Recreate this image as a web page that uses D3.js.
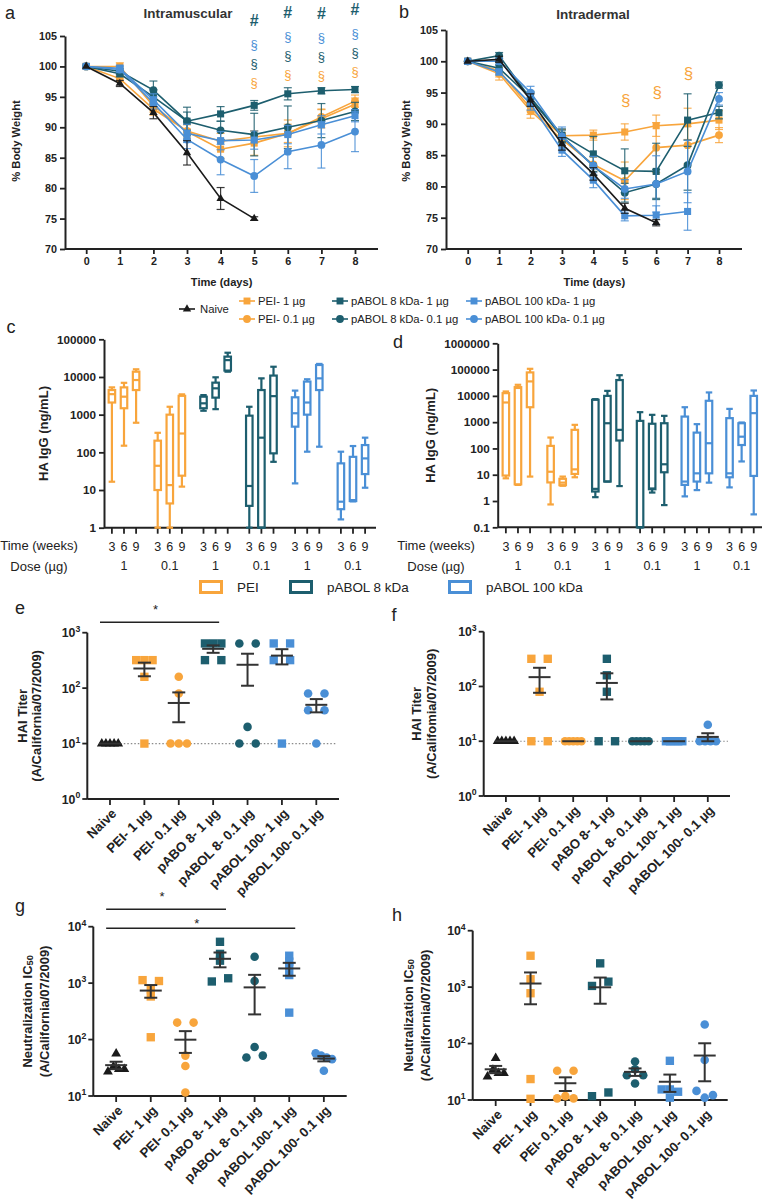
<!DOCTYPE html>
<html><head><meta charset="utf-8">
<script src="https://cdn.jsdelivr.net/npm/d3@7/dist/d3.min.js"></script>
<style>
html,body{margin:0;padding:0;background:#fff;}
svg text{font-family:"Liberation Sans",Arial,Helvetica,sans-serif;}
</style></head><body>
<script>
// ================= DATA =================
const days = [0,1,2,3,4,5,6,7,8];
const seriesNames = ["Naive","PEI- 1 µg","PEI- 0.1 µg","pABOL 8 kDa- 1 µg","pABOL 8 kDa- 0.1 µg","pABOL 100 kDa- 1 µg","pABOL 100 kDa- 0.1 µg"];

// Panel a: Intramuscular, % body weight (mean) and error (SEM)
const imNaive      = [100,97.2,92.4,85.8,78.3,75.0];
const imNaiveErr   = [0,0.5,1.0,2.0,1.8,0.3];
const imPei1       = [100,100.0,93.5,89.3,86.4,87.4,89.0,91.4,93.8];
const imPei1Err    = [0,0.6,1.0,1.2,1.5,2.0,2.2,1.5,1.0];
const imPei01      = [100,98.0,93.0,89.4,87.7,88.4,89.0,91.7,94.3];
const imPei01Err   = [0,0.5,1.0,1.0,1.3,1.0,1.5,1.3,1.0];
const imP8_1       = [100,98.8,95.0,91.0,92.2,93.6,95.5,96.0,96.2];
const imP8_1Err    = [0,0.5,1.2,2.3,1.2,0.8,1.0,0.5,0.5];
const imP8_01      = [100,99.2,96.1,91.0,89.5,88.8,90.0,91.1,92.6];
const imP8_01Err   = [0,0.5,1.5,1.5,1.5,3.5,3.5,2.8,1.5];
const imP100_1     = [100,99.7,94.5,89.0,87.8,87.9,88.8,90.4,91.9];
const imP100_1Err  = [0,0.5,1.0,1.5,1.5,1.5,1.5,1.5,1.0];
const imP100_01    = [100,99.5,94.0,88.0,84.7,82.0,86.0,87.1,89.3];
const imP100_01Err = [0,0.5,1.0,1.5,2.5,2.7,2.8,3.8,3.3];
const imSigDays    = [5,6,7,8];
const imSigMarks   = ["#","§","§","§"];

// Panel b: Intradermal
const idNaive      = [100,100.3,93.8,86.8,82.0,76.5,74.2];
const idNaiveErr   = [0,0.5,1.0,1.0,1.0,0.8,0.5];
const idPei1       = [100,98.5,92.5,88.1,88.2,88.7,89.7,90.0,90.6];
const idPei1Err    = [0,1.0,1.0,1.0,0.8,1.3,1.7,2.5,1.5];
const idPei01      = [100,98.0,92.1,87.5,83.5,80.9,86.2,86.6,88.2];
const idPei01Err   = [0,1.0,1.2,1.0,1.2,3.0,4.0,3.0,1.2];
const idP8_1       = [100,98.9,94.2,88.2,85.2,82.5,82.4,90.6,91.8];
const idP8_1Err    = [0,0.5,1.0,1.0,2.8,3.5,4.5,4.2,1.0];
const idP8_01      = [100,100.9,94.0,88.0,83.3,79.0,80.4,83.4,96.2];
const idP8_01Err   = [0,0.5,1.0,1.0,1.5,1.5,2.3,4.0,0.5];
const idP100_1     = [100,98.3,93.2,85.8,81.0,75.3,75.4,76.0];
const idP100_1Err  = [0,0.5,1.0,1.0,1.2,0.8,1.5,3.0];
const idP100_01    = [100,100.0,95.0,88.0,83.3,79.6,80.4,82.4,94.0];
const idP100_01Err = [0,0.5,1.0,1.5,1.5,1.5,4.5,5.0,1.0];
const idSigDays    = [5,6,7];

// Panels c/d: HA IgG box plots, each box = [min, Q1, median, Q3, max] for weeks 3, 6, 9
const weeks = ["3","6","9"];
const doses = ["1","0.1","1","0.1","1","0.1"];
const boxGroups = ["PEI","pABOL 8 kDa","pABOL 100 kDa"];
const cPei1   = [[16.6,2100,3500,4500,5300],[150,1480,3000,5300,7000],[610,4500,8300,13800,16000]];
const cPei01  = [[1,10,44,204,330],[1,4.4,13.5,1000,1620],[12.3,24,316,3160,3460]];
const cP8_1   = [[1270,1480,2000,3000,3300],[1400,2830,5000,7070,9800],[13800,14800,28000,34700,44000]];
const cP8_01  = [[1,3.8,12.8,940,1620],[1,1,245,4500,9200],[56,94,3100,10900,18700]];
const cP100_1 = [[15,480,1090,2890,4350],[104,1000,2100,7550,8700],[141,4500,9200,20800,22200]];
const cP100_01= [[1.66,3.1,4.9,51,104],[5,5.1,5.4,76,147],[11.5,26.5,69,156,245]];
const dPei1   = [[7.3,9.3,5600,12700,14700],[4.1,4.3,20000,21500,26400],[8.5,3700,35500,78000,107000]];
const dPei01  = [[0.74,5.1,13,125,260],[3.8,4,5,7,8.5],[8,10.7,16,510,790]];
const dP8_1   = [[1.4,2.3,2.9,7100,7500],[5.5,5.5,910,10000,15500],[3.7,200,510,40000,61000]];
const dP8_01  = [[0.1,0.1,0.1,1120,2400],[2.1,2.8,3,870,1900],[0.7,12.4,25,910,1740]];
const dP100_1 = [[1.5,4.1,5.5,1630,3700],[2.6,5.5,11.3,400,840],[5,11.3,158,6500,13500]];
const dP100_01= [[3.3,8,11.3,1420,3200],[32,135,280,910,970],[0.31,9,2200,10000,16000]];

// Panels e-h: individual animals
const catLabels = ["Naive","PEI- 1 µg","PEI- 0.1 µg","pABO 8- 1 µg","pABOL 8- 0.1 µg","pABOL 100- 1 µg","pABOL 100- 0.1 µg"];
const eHAI  = [[10,10,10,10,10],[320,320,320,160,10],[160,80,10,10,10],[640,640,640,320,320],[640,640,20,10,10],[640,640,320,320,10],[80,80,40,40,10]];
const fHAI  = [[10,10,10,10,10],[320,320,80,10,10],[10,10,10,10,10],[320,160,80,10,10],[10,10,10,10,10],[10,10,10,10,10],[20,10,10,10,10]];
const gIC50 = [[56,27,33,30,30],[1130,1090,780,580,110],[200,200,52,34,11.5],[5400,3300,2500,1070,1220],[2940,1090,48,74,52],[3060,2400,1950,1390,300],[57,52,48,45,28]];
const hIC50 = [[55,26,34,30,30],[3600,1380,780,23.5,10.5],[33,33,10.7,11.7,10.7],[2640,1050,1250,11.7,13.6],[48,35,27.5,27.5,19.6],[49.5,15.4,15.4,14,11],[218,51,14.5,11,12.2]];

// ================= STYLE =================
const FONT = "'Liberation Sans', Arial, Helvetica, sans-serif";
const COL = {naive:"#1a1a1a", pei:"#F8A53C", p8:"#1D5E6E", p100:"#4A8FD6"};
const catColors = [COL.naive,COL.pei,COL.pei,COL.p8,COL.p8,COL.p100,COL.p100];
const catShapes = ["tri","sq","ci","sq","ci","sq","ci"];
const boxColors = [COL.pei,COL.pei,COL.p8,COL.p8,COL.p100,COL.p100];
const boxLegendColors = [COL.pei,COL.p8,COL.p100];
const AX = "#222";

const svg = d3.select("body").append("svg").attr("width",762).attr("height",1200)
  .style("font-family",FONT);

function symPath(shape, size){
  const t = shape==="sq"?d3.symbolSquare:shape==="ci"?d3.symbolCircle:d3.symbolTriangle;
  return d3.symbol().type(t).size(size)();
}
function styleAxis(sel, fs, cls, bold=true){
  sel.select(".domain").attr("stroke",AX).attr("stroke-width",2);
  sel.selectAll(".tick line").attr("stroke",AX).attr("stroke-width",1.8);
  sel.selectAll(".tick text").attr("class",cls).attr("fill",AX).style("font-size",fs+"px")
    .style("font-weight",bold?"bold":"normal").style("font-family",FONT);
}
function txt(x,y,s,opt={}){
  const t = svg.append("text").attr("x",x).attr("y",y).text(s)
    .attr("fill",opt.fill||AX).style("font-size",(opt.fs||12)+"px")
    .style("font-weight",opt.bold?"bold":"normal")
    .attr("text-anchor",opt.anchor||"middle").attr("dominant-baseline",opt.base||"central");
  if(opt.cls) t.attr("class",opt.cls);
  if(opt.rot) t.attr("transform",`rotate(${opt.rot},${x},${y})`);
  return t;
}
function hline(x1,x2,y,w=2,c=AX){svg.append("line").attr("x1",x1).attr("x2",x2).attr("y1",y).attr("y2",y).attr("stroke",c).attr("stroke-width",w);}

// panel letters
[["a",10,13],["b",404,12],["c",11,327],["d",398,342],["e",20,608],["f",394,615],["g",20,906],["h",397,915]]
  .forEach(([l,x,y])=>txt(x,y,l,{fs:18,fill:"#222",cls:"plet"}));

// ================= PANELS a / b =================
function mkSeries(vals){
  return vals.map((v,i)=>({name:seriesNames[i], vals:v[0], err:v[1], color:catColors[i], shape:catShapes[i]}));
}
function weightPanel(cfg){
  const g = svg.append("g");
  const x = d3.scaleLinear().domain([0,8]).range(cfg.xr);
  const y = d3.scaleLinear().domain([70,105]).range(cfg.yr);
  const yA = g.append("g").attr("transform",`translate(${cfg.ax},0)`)
    .call(d3.axisLeft(y).tickValues(d3.range(70,106,5)).tickSize(5).tickSizeOuter(0).tickPadding(3));
  styleAxis(yA,10.5,"wtk");
  const xA = g.append("g").attr("transform",`translate(0,${cfg.yr[0]})`)
    .call(d3.axisBottom(x).tickValues(days).tickSize(5).tickPadding(3));
  xA.select(".domain").remove();
  styleAxis(xA,10.5,"wtk");
  g.append("line").attr("x1",cfg.ax).attr("x2",cfg.xEnd).attr("y1",cfg.yr[0]).attr("y2",cfg.yr[0]).attr("stroke",AX).attr("stroke-width",2);
  const order=[1,2,3,4,5,6,0];
  order.forEach(k=>{
    const s=cfg.series[k];
    const pts=s.vals.map((v,i)=>({d:days[i],v,e:s.err[i]}));
    const sg=g.append("g");
    pts.filter(p=>p.e>0).forEach(p=>{
      const cx=x(p.d), y1=y(p.v+p.e), y2=y(p.v-p.e);
      sg.append("line").attr("x1",cx).attr("x2",cx).attr("y1",y1).attr("y2",y2).attr("stroke",s.color).attr("stroke-width",1.2).attr("opacity",0.85);
      [y1,y2].forEach(yy=>sg.append("line").attr("x1",cx-4).attr("x2",cx+4).attr("y1",yy).attr("y2",yy).attr("stroke",s.color).attr("stroke-width",1.2).attr("opacity",0.85));
    });
    sg.append("path").attr("d",d3.line().x(p=>x(p.d)).y(p=>y(p.v))(pts)).attr("fill","none").attr("stroke",s.color).attr("stroke-width",1.6);
    sg.selectAll("path.m").data(pts).join("path").attr("class","m")
      .attr("transform",p=>`translate(${x(p.d)},${y(p.v)})`)
      .attr("d",symPath(s.shape,s.shape==="sq"?50:s.shape==="ci"?48:30)).attr("fill",s.color);
  });
  txt((cfg.xr[0]+cfg.xr[1])/2+1,282,"Time (days)",{fs:11,bold:true,cls:"tdays"});
  txt(cfg.ylabX,141,"% Body Weight",{fs:11.5,bold:true,rot:-90,cls:"bw"});
  txt(cfg.titleX,cfg.titleY,cfg.title,{fs:13.5,bold:true,fill:"#333",cls:cfg.titleCls});
  return {x,y};
}
const A = weightPanel({ax:65, xr:[86.2,355], yr:[249,36], xEnd:378, ylabX:16, title:"Intramuscular", titleX:188, titleY:13, titleCls:"ttlA",
  series:mkSeries([[imNaive,imNaiveErr],[imPei1,imPei1Err],[imPei01,imPei01Err],[imP8_1,imP8_1Err],[imP8_01,imP8_01Err],[imP100_1,imP100_1Err],[imP100_01,imP100_01Err]])});
const B = weightPanel({ax:446, xr:[467.7,719], yr:[249,30], xEnd:742, ylabX:406, title:"Intradermal", titleX:593, titleY:14, titleCls:"ttlB",
  series:mkSeries([[idNaive,idNaiveErr],[idPei1,idPei1Err],[idPei01,idPei01Err],[idP8_1,idP8_1Err],[idP8_01,idP8_01Err],[idP100_1,idP100_1Err],[idP100_01,idP100_01Err]])});

// significance marks panel a
const sigRowY=[16,40,59,78], sigShift=[4,-4,-3,-7], sigCol=[COL.p8,COL.p100,COL.p8,COL.pei];
imSigDays.forEach((d,i)=>{
  imSigMarks.forEach((m,r)=>{
    txt(A.x(d),sigRowY[r]+sigShift[i],m,{fs:m==="#"?16:13,fill:sigCol[r],bold:m==="#"});
  });
});
const idSigY=[100,92,73];
idSigDays.forEach((d,i)=>txt(B.x(d)+1,idSigY[i],"§",{fs:17,fill:COL.pei}));

// legend (Naive sits between the two rows)
const legItems=[
  {i:0,x:187,y:309},{i:1,x:247,y:301},{i:3,x:340,y:301},{i:5,x:474,y:301},
  {i:2,x:247,y:319},{i:4,x:340,y:319},{i:6,x:474,y:319}];
legItems.forEach(li=>{
  const c=catColors[li.i];
  hline(li.x-8,li.x+8,li.y,1.6,c);
  svg.append("path").attr("transform",`translate(${li.x},${li.y})`).attr("d",symPath(catShapes[li.i],catShapes[li.i]==="tri"?30:48)).attr("fill",c);
  txt(li.x+(li.i===0?13:11),li.y,seriesNames[li.i],{fs:11.5,anchor:"start",fill:"#222",cls:"leg"});
});

// ================= PANELS c / d =================
function boxPanel(cfg){
  const g=svg.append("g");
  const y=d3.scaleLog().domain(cfg.ydom).range(cfg.yr).clamp(true);
  const gb=d3.scaleBand().domain(d3.range(cfg.boxes.length)).range(cfg.bandR);
  const wp=d3.scalePoint().domain(weeks).range([-12.1,12.1]);
  const yA=g.append("g").attr("transform",`translate(${cfg.ax},0)`)
    .call(d3.axisLeft(y).tickValues(cfg.yticks).tickFormat(d=>String(d)).tickSize(5).tickSizeOuter(0).tickPadding(3));
  styleAxis(yA,12,"btk");
  g.append("line").attr("x1",cfg.ax).attr("x2",cfg.xEnd).attr("y1",cfg.yr[0]).attr("y2",cfg.yr[0]).attr("stroke",AX).attr("stroke-width",2);
  const bw=6.5;
  cfg.boxes.forEach((grp,gi)=>{
    const cx=gb(gi)+gb.bandwidth()/2, col=boxColors[gi];
    grp.forEach((b,wi)=>{
      const bx=cx+wp(weeks[wi]);
      g.append("line").attr("x1",bx).attr("x2",bx).attr("y1",cfg.yr[0]).attr("y2",cfg.yr[0]+6).attr("stroke",AX).attr("stroke-width",1.8);
      g.append("text").attr("class","wk").attr("x",bx).attr("y",547).attr("text-anchor","middle").attr("dominant-baseline","central")
        .style("font-size","12px").attr("fill",AX).text(weeks[wi]);
      const [mn,q1,md,q3,mx]=b.map(v=>y(v));
      const bg=g.append("g").attr("stroke",col).attr("stroke-width",2.2).attr("fill","none");
      bg.append("line").attr("x1",bx).attr("x2",bx).attr("y1",mx).attr("y2",q3);
      bg.append("line").attr("x1",bx).attr("x2",bx).attr("y1",q1).attr("y2",mn);
      bg.append("line").attr("x1",bx-bw/2).attr("x2",bx+bw/2).attr("y1",mx).attr("y2",mx);
      bg.append("line").attr("x1",bx-bw/2).attr("x2",bx+bw/2).attr("y1",mn).attr("y2",mn);
      bg.append("rect").attr("x",bx-bw/2).attr("y",q3).attr("width",bw).attr("height",Math.max(0.5,q1-q3));
      bg.append("line").attr("x1",bx-bw/2).attr("x2",bx+bw/2).attr("y1",md).attr("y2",md);
    });
    g.append("text").attr("class","wk").attr("x",cx).attr("y",566).attr("text-anchor","middle").attr("dominant-baseline","central")
      .style("font-size","12px").attr("fill",AX).text(doses[gi]);
  });
  txt(cfg.labX,545,"Time (weeks)",{fs:12.5,fill:AX,cls:"wk"});
  txt(cfg.labX,566,"Dose (µg)",{fs:12.5,fill:AX,cls:"wk"});
  txt(cfg.ylabX,(cfg.yr[0]+cfg.yr[1])/2,"HA IgG (ng/mL)",{fs:13,bold:true,rot:-90,cls:"hal"});
}
boxPanel({ax:104, ydom:[1,100000], yr:[527.7,339.3], yticks:[1,10,100,1000,10000,100000], bandR:[101.1,375.9], xEnd:376,
  boxes:[cPei1,cPei01,cP8_1,cP8_01,cP100_1,cP100_01], labX:39, ylabX:43});
boxPanel({ax:497.7, ydom:[0.1,1000000], yr:[527.3,343.3], yticks:[0.1,1,10,100,1000,10000,100000,1000000], bandR:[495.6,764], xEnd:762,
  boxes:[dPei1,dPei01,dP8_1,dP8_01,dP100_1,dP100_01], labX:436, ylabX:431});

// box legend
const boxLegX=[199,289,448];
boxGroups.forEach((n,i)=>{
  const x0=boxLegX[i];
  svg.append("rect").attr("x",x0+1.5).attr("y",581.5).attr("width",21).attr("height",11).attr("fill","none").attr("stroke",boxLegendColors[i]).attr("stroke-width",3);
  txt(x0+38,587.5,n,{fs:13,anchor:"start",fill:"#222",cls:"bleg"});
});

// ================= PANELS e-h =================
function spreadOffsets(vals,y){
  const idx=vals.map((v,i)=>({i,py:y(v)})).sort((a,b)=>a.py-b.py);
  const off=new Array(vals.length).fill(0);
  let cl=[idx[0]];
  const flush=()=>{const n=cl.length; if(n>1){cl.sort((a,b)=>a.i-b.i); cl.forEach((p,k)=>off[p.i]=-8.2+16.4*k/(n-1));}};
  for(let k=1;k<idx.length;k++){ if(idx[k].py-idx[k-1].py<5) cl.push(idx[k]); else {flush(); cl=[idx[k]];} }
  flush();
  return off;
}
function scatterPanel(cfg){
  const g=svg.append("g");
  const x=d3.scalePoint().domain(catLabels).range([cfg.ax,cfg.xEnd]).padding(0.66);
  const y=d3.scaleLog().domain(cfg.ydom).range(cfg.yr);
  const y0=cfg.yr[0];
  g.append("line").attr("x1",cfg.ax).attr("x2",cfg.ax).attr("y1",cfg.yr[1]).attr("y2",y0).attr("stroke",AX).attr("stroke-width",2);
  const exps=d3.range(Math.round(Math.log10(cfg.ydom[0])),Math.round(Math.log10(cfg.ydom[1]))+1);
  exps.forEach(k=>{
    const yy=y(Math.pow(10,k));
    g.append("line").attr("x1",cfg.ax-5).attr("x2",cfg.ax).attr("y1",yy).attr("y2",yy).attr("stroke",AX).attr("stroke-width",1.8);
    const t=g.append("text").attr("class","ptk").attr("x",cfg.ax-7).attr("y",yy+4.5).attr("text-anchor","end").style("font-size","12px").style("font-weight","bold").attr("fill",AX);
    t.append("tspan").text("10");
    t.append("tspan").attr("class","sup").attr("dy",-5.5).style("font-size","8.5px").text(k);
  });
  g.append("line").attr("x1",cfg.ax).attr("x2",cfg.xEnd).attr("y1",y0).attr("y2",y0).attr("stroke",AX).attr("stroke-width",2);
  catLabels.forEach(c=>{
    g.append("line").attr("x1",x(c)).attr("x2",x(c)).attr("y1",y0).attr("y2",y0+6).attr("stroke",AX).attr("stroke-width",1.8);
    g.append("text").attr("class","cat").attr("transform",`translate(${x(c)+4},${y0+12}) rotate(-45)`).attr("text-anchor","end").attr("dy","0.35em")
      .style("font-size","12.5px").style("font-weight","bold").attr("fill",AX).text(c);
  });
  if(cfg.dotted){
    g.append("line").attr("x1",cfg.ax+12).attr("x2",cfg.xEnd-2).attr("y1",y(10)).attr("y2",y(10))
      .attr("stroke","#8a8a8a").attr("stroke-width",1.2).attr("stroke-dasharray","1.5,2");
  }
  cfg.data.forEach((vals,ci)=>{
    const cx=x(catLabels[ci]);
    const off=spreadOffsets(vals,y);
    g.selectAll(null).data(vals).join("path")
      .attr("transform",(v,i)=>`translate(${cx+off[i]},${y(v)})`)
      .attr("d",symPath(catShapes[ci],catShapes[ci]==="sq"?70:catShapes[ci]==="ci"?58:42))
      .attr("fill",catColors[ci]);
    const m=d3.mean(vals), se=d3.deviation(vals)/Math.sqrt(vals.length);
    const hi=y(m+se), lo=y(Math.max(m-se,cfg.ydom[0]));
    const eg=g.append("g").attr("stroke","#333").attr("stroke-width",2);
    eg.append("line").attr("x1",cx-11).attr("x2",cx+11).attr("y1",y(m)).attr("y2",y(m));
    if(se>0){
      eg.append("line").attr("x1",cx).attr("x2",cx).attr("y1",hi).attr("y2",lo);
      eg.append("line").attr("x1",cx-6.5).attr("x2",cx+6.5).attr("y1",hi).attr("y2",hi);
      eg.append("line").attr("x1",cx-6.5).attr("x2",cx+6.5).attr("y1",lo).attr("y2",lo);
    }
  });
  const ym=(cfg.yr[0]+cfg.yr[1])/2;
  const t1=txt(cfg.lab1X,ym,"",{fs:12.5,bold:true,rot:-90,cls:"ylab"});
  t1.append("tspan").text(cfg.lab1);
  if(cfg.sub){ t1.append("tspan").attr("class","sub").attr("dy",3).style("font-size","9px").text(cfg.sub); }
  txt(cfg.lab2X,ym,cfg.lab2,{fs:12.5,bold:true,rot:-90,cls:"ylab"});
  (cfg.sig||[]).forEach(s=>{
    const x1=x(catLabels[s.from])-10, x2=x(catLabels[s.to])+6;
    g.append("line").attr("x1",x1).attr("x2",x2).attr("y1",s.y).attr("y2",s.y).attr("stroke","#222").attr("stroke-width",1.6);
    g.append("text").attr("x",(x1+x2)/2-4).attr("y",s.starY+7).attr("text-anchor","middle").style("font-size","13px").attr("fill","#222").text("*");
  });
}
scatterPanel({ax:87.3, xEnd:339, ydom:[1,1000], yr:[799,632.7], data:eHAI, dotted:true,
  lab1:"HAI Titer", lab2:"(A/California/07/2009)", lab1X:22, lab2X:37, sig:[{from:0,to:3,y:622.3,starY:607}]});
scatterPanel({ax:483.7, xEnd:730, ydom:[1,1000], yr:[796,631.7], data:fHAI, dotted:true,
  lab1:"HAI Titer", lab2:"(A/Califomia/07/2009)", lab1X:416, lab2X:432});
scatterPanel({ax:93.3, xEnd:346.7, ydom:[10,10000], yr:[1096,926.7], data:gIC50,
  lab1:"Neutralization IC", sub:"50", lab2:"(A/California/07/2009)", lab1X:27, lab2X:45,
  sig:[{from:0,to:3,y:909.3,starY:894},{from:0,to:5,y:928.3,starY:920.5}]});
scatterPanel({ax:472.7, xEnd:727.7, ydom:[10,10000], yr:[1100,930.7], data:hIC50,
  lab1:"Neutralization IC", sub:"50", lab2:"(A/California/07/2009)", lab1X:408, lab2X:426});

// ============ fit text sizes to the widths measured on the reference ============
function fit(cls, rep, target){
  const nodes = svg.selectAll("text."+cls);
  const r = nodes.filter(function(){return this.textContent===rep;}).node();
  if(!r) return 1;
  const L = r.getComputedTextLength();
  if(!(L>0)) return 1;
  const k = target/L;
  nodes.each(function(){ const f=parseFloat(this.style.fontSize); d3.select(this).style("font-size",(f*k)+"px"); });
  return k;
}
fit("ttlA","Intramuscular",89);
fit("ttlB","Intradermal",73.7);
fit("bw","% Body Weight",81.7);
fit("tdays","Time (days)",61.7);
const kw = fit("wtk","105",18);
fit("leg","pABOL 100 kDa- 0.1 µg",120);
fit("bleg","pABOL 100 kDa",96.7);
fit("wk","Time (weeks)",77.7);
fit("hal","HA IgG (ng/mL)",95);
fit("btk","100000",39);
fit("cat","pABOL 100- 0.1 µg",116.7);
const kl = fit("ylab","(A/California/07/2009)",131.7);
svg.selectAll("tspan.sub").style("font-size",(9*kl)+"px");
svg.selectAll("text.ptk").style("font-size",(12*kw)+"px");
svg.selectAll("tspan.sup").style("font-size",(8.5*kw)+"px");
</script>
</body></html>
